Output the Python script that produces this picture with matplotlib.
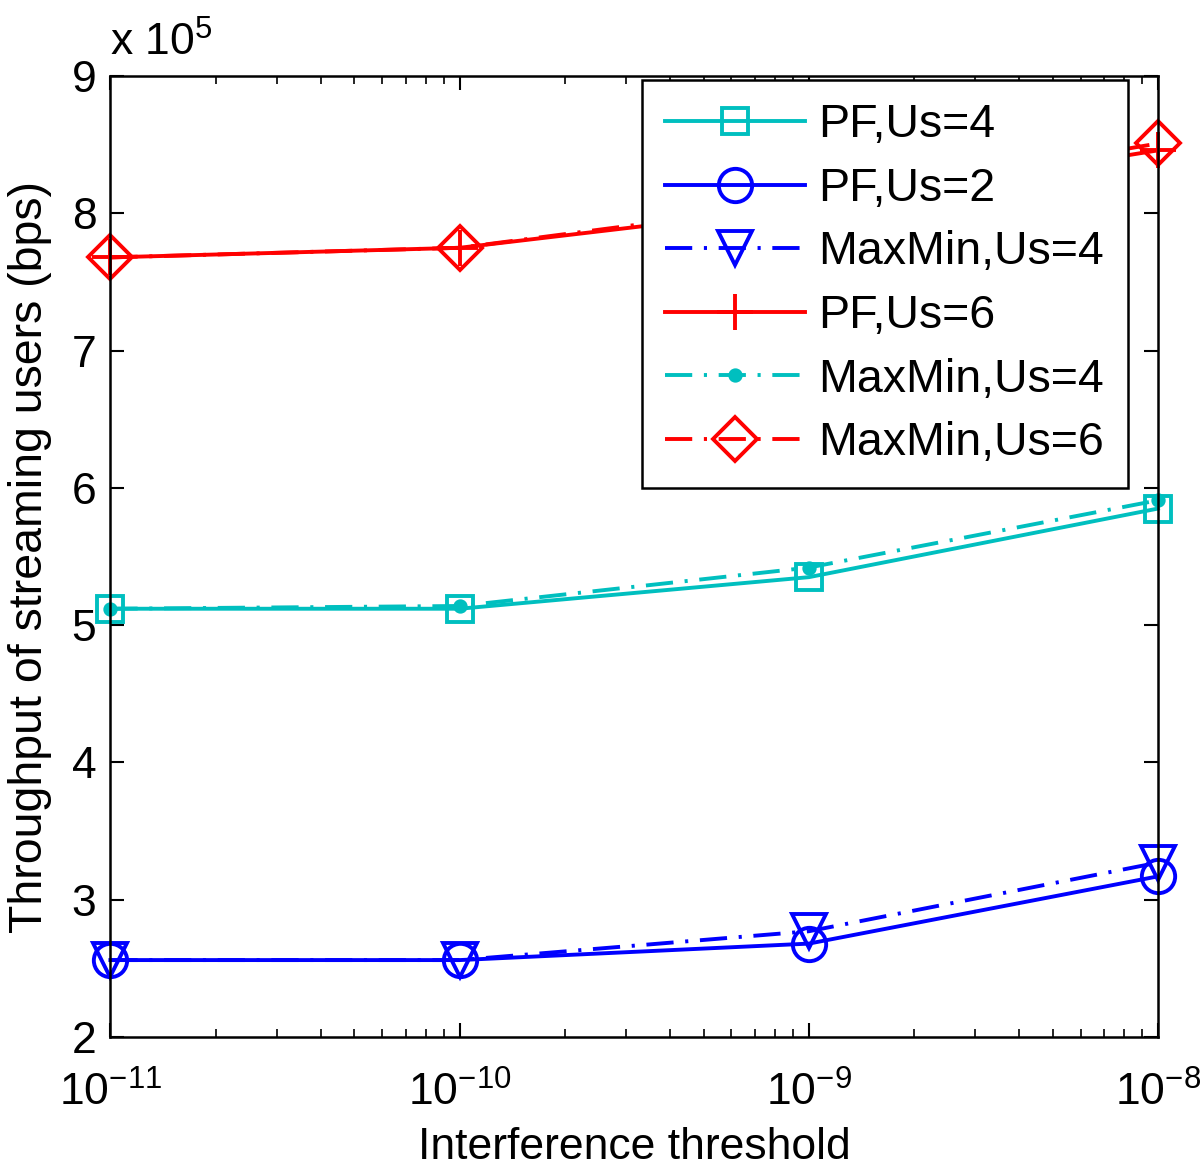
import matplotlib
matplotlib.use("Agg")
import matplotlib.pyplot as plt
from matplotlib.ticker import LogLocator, NullFormatter

# interference threshold values and throughput (x 1e5 bps)
thresholds = [1e-11, 1e-10, 1e-9, 1e-8]
pf_us4 = [5.12, 5.12, 5.35, 5.85]
pf_us2 = [2.56, 2.56, 2.68, 3.17]
maxmin_us4_blue = [2.56, 2.56, 2.77, 3.27]
pf_us6 = [7.68, 7.75, 8.05, 8.46]
maxmin_us4_cyan = [5.12, 5.14, 5.42, 5.91]
maxmin_us6 = [7.68, 7.75, 8.08, 8.51]

plt.rcParams['font.family'] = ['Liberation Sans', 'DejaVu Sans']
plt.rcParams['mathtext.fontset'] = 'custom'
plt.rcParams['mathtext.rm'] = 'Liberation Sans'
plt.rcParams['mathtext.default'] = 'regular'

cyan = '#00BFBF'
blue = '#0000FF'
red = '#FF0000'
dashdot = (0, (7, 3, 0.8, 3))
lw = 2.8
fs = 32

fig = plt.figure(figsize=(12, 11.73), dpi=100)
ax = fig.add_axes([0.092, 0.116, 0.873, 0.819])

common = dict(lw=lw, mew=lw, clip_on=False)
ax.plot(thresholds, pf_us4, color=cyan, marker='s', ms=19, mfc='none',
        label='PF,Us=4', **common)
ax.plot(thresholds, pf_us2, color=blue, marker='o', ms=24, mfc='none',
        label='PF,Us=2', **common)
ax.plot(thresholds, maxmin_us4_blue, color=blue, ls=dashdot, marker='v', ms=25,
        mfc='none', label='MaxMin,Us=4', **common)
ax.plot(thresholds, pf_us6, color=red, marker='+', ms=26,
        label='PF,Us=6', **common)
ax.plot(thresholds, maxmin_us4_cyan, color=cyan, ls=dashdot, marker='.', ms=15,
        label='MaxMin,Us=4', **common)
ax.plot(thresholds, maxmin_us6, color=red, ls=dashdot, marker='D', ms=22,
        mfc='none', label='MaxMin,Us=6', **common)

ax.set_xscale('log')
ax.set_xlim(1e-11, 1e-8)
ax.set_ylim(2, 9)
ax.set_yticks([2, 3, 4, 5, 6, 7, 8, 9])
ax.set_xticks(thresholds)
ax.set_xticklabels([r'$10^{-11}$', r'$10^{-10}$', r'$10^{-9}$', r'$10^{-8}$'])
ax.xaxis.set_minor_locator(LogLocator(base=10, subs=range(2, 10)))
ax.xaxis.set_minor_formatter(NullFormatter())

ax.tick_params(axis='both', which='major', direction='in', length=10, width=1.5,
               labelsize=fs, top=True, right=True)
ax.tick_params(axis='x', which='major', pad=25)
ax.tick_params(axis='y', which='major', pad=10)
ax.tick_params(axis='x', which='minor', direction='in', length=6, width=1.2,
               top=True)
for s in ax.spines.values():
    s.set_linewidth(1.8)
    s.set_zorder(3)

ax.set_xlabel('Interference threshold', fontsize=fs, labelpad=9)
ax.set_ylabel('Throughput of streaming users (bps)', fontsize=33.5, labelpad=14)
ax.text(0.0, 1.012, r'x $10^{5}$', transform=ax.transAxes, fontsize=fs,
        ha='left', va='bottom')

leg = ax.legend(loc='upper right', bbox_to_anchor=(0.971, 0.996),
                borderaxespad=0, fontsize=33.5, handlelength=3.0,
                fancybox=False, edgecolor='black', framealpha=1,
                labelspacing=0.42, handletextpad=0.3, borderpad=0.5)
leg.get_frame().set_linewidth(1.8)
leg.set_zorder(5)

fig.savefig('out.png', dpi=100)
